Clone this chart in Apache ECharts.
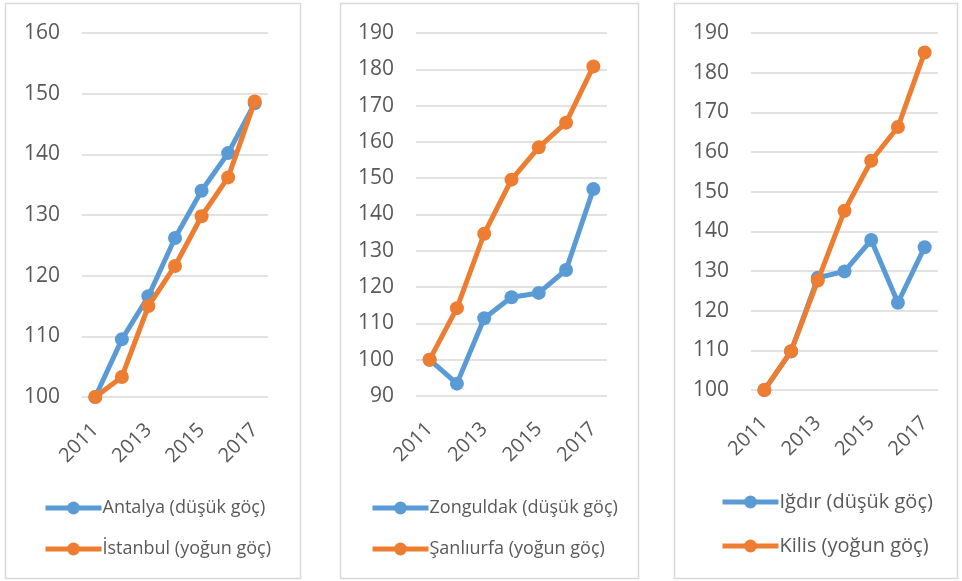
<!DOCTYPE html>
<html><head><meta charset="utf-8">
<script src="https://cdn.jsdelivr.net/npm/echarts@6/dist/echarts.min.js"></script>
<style>html,body{margin:0;padding:0;background:#fff}#c{width:962px;height:581px}</style>
</head><body><div id="c"></div>
<script>
const years = ['2011','2012','2013','2014','2015','2016','2017'];
const antalya = [100, 109.5, 116.6, 126.2, 134.0, 140.2, 148.4];
const istanbul = [100, 103.3, 115.0, 121.6, 129.8, 136.2, 148.7];
const zonguldak = [100, 93.4, 111.4, 117.2, 118.4, 124.7, 147.0];
const sanliurfa = [100, 114.2, 134.7, 149.6, 158.5, 165.3, 180.8];
const igdir = [100, 109.7, 128.3, 129.9, 137.8, 122.0, 136.0];
const kilis = [100, 109.8, 127.6, 145.2, 157.8, 166.3, 185.1];
const names = [
  ['Antalya (düşük göç)', 'İstanbul (yoğun göç)'],
  ['Zonguldak (düşük göç)', 'Şanlıurfa (yoğun göç)'],
  ['Iğdır (düşük göç)', 'Kilis (yoğun göç)']
];
const yRanges = [[100,160],[90,190],[100,190]];

const BLUE = '#5B9BD5', ORANGE = '#ED7D31', FONT = 'Open Sans';
const grids = [
  {left: 82, width: 186, top: 33, height: 364},
  {left: 416, width: 191, top: 33, height: 363},
  {left: 751, width: 187, top: 33, height: 357}
];
const panels = [[5,3,295,575],[340,3,298,575],[674,3,283,575]];
const legendPos = [
  {left: 38, top: 494, fs: 18, gap: 23, iw: 56},
  {left: 365, top: 494, fs: 18, gap: 23, iw: 56},
  {left: 715, top: 487, fs: 20, gap: 24, iw: 56}
];
const data = [[antalya, istanbul],[zonguldak, sanliurfa],[igdir, kilis]];

const option = {
  backgroundColor: '#fff',
  animation: false,
  graphic: panels.map(p => ({type:'rect', shape:{x:p[0]+0.5,y:p[1]+0.5,width:p[2],height:p[3]}, style:{fill:'none', stroke:'#D9D9D9', lineWidth:1.5}, silent:true})),
  grid: grids,
  xAxis: grids.map((g,i) => ({
    type:'category', gridIndex:i, data: years, boundaryGap: true,
    axisLine:{show:false}, axisTick:{show:false},
    axisLabel:{interval:1, rotate:45, color:'#595959', fontSize:20, fontFamily:FONT, margin:30}
  })),
  yAxis: grids.map((g,i) => ({
    type:'value', gridIndex:i, min:yRanges[i][0], max:yRanges[i][1], interval:10,
    axisLine:{show:false}, axisTick:{show:false},
    splitLine:{lineStyle:{color:'#D9D9D9', width:1.5}},
    axisLabel:{color:'#595959', fontSize:21, fontFamily:FONT, margin: 22}
  })),
  legend: legendPos.map((l,i) => ({
    left: l.left, top: l.top, orient:'vertical', itemGap: l.gap,
    itemWidth: l.iw, itemHeight: 16,
    lineStyle: {width: 5},
    data: names[i],
    textStyle:{color:'#595959', fontSize:l.fs, fontFamily:FONT, padding:[0,0,0,-4]}
  })),
  series: []
};
data.forEach((pair,i) => {
  pair.forEach((vals,j) => {
    const c = j===0 ? BLUE : ORANGE;
    option.series.push({
      type:'line', name:names[i][j], xAxisIndex:i, yAxisIndex:i, data: vals,
      symbol:'circle', symbolSize:14,
      color: c,
      lineStyle:{width:5, color: c},
      itemStyle:{color: c},
      z: 2 + j
    });
  });
});
const chart = echarts.init(document.getElementById('c'), null, {renderer:'canvas'});
chart.setOption(option);
</script></body></html>
